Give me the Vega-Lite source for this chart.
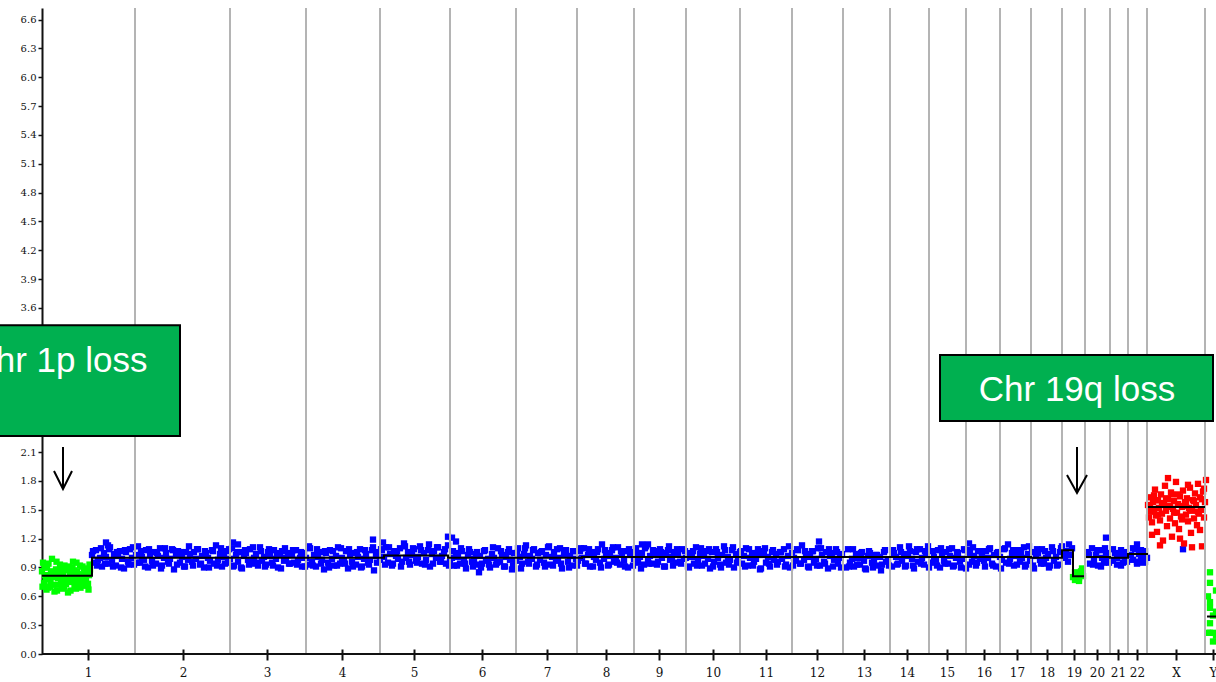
{
"$schema": "https://vega.github.io/schema/vega-lite/v6.json",
"width": 1174, "height": 646,
"autosize": {"type": "none"},
"padding": {"left": 42, "top": 8, "right": 0, "bottom": 28},
"background": "white",
"config": {
 "view": {"stroke": null},
 "axisX": {"title": null, "grid": false, "domain": false, "offset": -5, "tickSize": 11, "tickWidth": 2, "tickColor": "#111", "labelPadding": 7, "labelOverlap": false, "labelBound": false, "labelFlush": false, "labelFont": "DejaVu Serif", "labelFontSize": 12, "labelColor": "#111"},
 "axisY": {"title": null, "grid": false, "domain": true, "domainColor": "#111", "domainWidth": 2, "tickSize": 4, "tickWidth": 1.5, "tickColor": "#111", "labelPadding": 2, "labelOverlap": false, "labelBound": false, "labelFlush": false, "labelFont": "DejaVu Serif", "labelFontSize": 10, "labelColor": "#111"}
},
"datasets": {
"normal": [
{"x":50,"y":1.03},{"x":52,"y":0.95},{"x":54,"y":1.08},{"x":56,"y":0.98},{"x":58,"y":1.00},{"x":60,"y":0.91},{"x":62,"y":1.05},{"x":64,"y":1.01},{"x":66,"y":0.94},{"x":68,"y":1.11},{"x":70,"y":0.97},{"x":72,"y":1.04},{"x":74,"y":0.92},{"x":76,"y":1.02},{"x":78,"y":1.07},{"x":80,"y":0.99},{"x":82,"y":0.89},{"x":84,"y":1.06},{"x":86,"y":0.96},{"x":88,"y":1.09},{"x":90,"y":1.00},{"x":92,"y":0.93},{"x":64,"y":1.16},{"x":66,"y":1.13},
{"x":94,"y":1.03},{"x":96,"y":1.12},{"x":98,"y":0.95},{"x":100,"y":1.01},{"x":102,"y":0.98},{"x":104,"y":1.08},{"x":106,"y":0.90},{"x":108,"y":1.04},{"x":110,"y":0.97},{"x":112,"y":1.06},{"x":114,"y":0.94},{"x":116,"y":1.02},{"x":118,"y":1.10},{"x":120,"y":0.92},{"x":122,"y":1.00},{"x":124,"y":1.05},{"x":126,"y":0.96},{"x":128,"y":0.99},{"x":130,"y":1.09},{"x":132,"y":0.88},{"x":134,"y":1.03},{"x":136,"y":1.07},{"x":138,"y":0.95},{"x":140,"y":1.01},{"x":142,"y":0.91},{"x":144,"y":1.06},{"x":146,"y":0.98},{"x":148,"y":1.04},
{"x":150,"y":0.96},{"x":152,"y":1.06},{"x":154,"y":0.99},{"x":156,"y":1.09},{"x":158,"y":0.93},{"x":160,"y":1.02},{"x":162,"y":0.90},{"x":164,"y":1.05},{"x":166,"y":1.00},{"x":168,"y":0.97},{"x":170,"y":1.08},{"x":172,"y":0.94},{"x":174,"y":1.13},{"x":176,"y":0.98},{"x":178,"y":1.04},{"x":180,"y":0.91},{"x":182,"y":1.01},{"x":184,"y":1.07},{"x":186,"y":0.95},
{"x":188,"y":0.99},{"x":190,"y":1.10},{"x":192,"y":0.92},{"x":194,"y":1.03},{"x":196,"y":0.96},{"x":198,"y":1.06},{"x":200,"y":0.89},{"x":202,"y":1.02},{"x":204,"y":1.05},{"x":206,"y":0.98},{"x":208,"y":1.09},{"x":210,"y":0.94},{"x":212,"y":1.00},{"x":214,"y":1.04},{"x":216,"y":0.92},{"x":218,"y":1.11},{"x":220,"y":0.97},{"x":222,"y":1.01},{"x":224,"y":0.93},{"x":226,"y":1.06},{"x":228,"y":1.02},{"x":230,"y":0.95},{"x":232,"y":1.08},{"x":234,"y":0.99},{"x":236,"y":0.90},{"x":238,"y":1.04},{"x":240,"y":1.07},{"x":242,"y":0.97},{"x":244,"y":1.00},{"x":246,"y":1.05},{"x":248,"y":0.94},{"x":250,"y":1.03},{"x":252,"y":0.95},{"x":254,"y":1.08},{"x":256,"y":0.98},{"x":258,"y":1.00},{"x":260,"y":0.91},{"x":262,"y":1.05},{"x":191,"y":1.16},{"x":196,"y":1.14},
{"x":264,"y":1.00},{"x":266,"y":0.93},{"x":268,"y":1.10},{"x":270,"y":0.96},{"x":272,"y":1.03},{"x":274,"y":0.91},{"x":276,"y":1.01},{"x":278,"y":1.06},{"x":280,"y":0.98},{"x":282,"y":0.88},{"x":284,"y":1.05},{"x":286,"y":0.95},{"x":288,"y":1.08},{"x":290,"y":0.99},{"x":292,"y":0.92},{"x":294,"y":1.02},{"x":296,"y":1.11},{"x":298,"y":0.94},{"x":300,"y":1.00},{"x":302,"y":0.97},{"x":304,"y":1.07},{"x":306,"y":0.89},{"x":308,"y":1.03},{"x":310,"y":0.96},{"x":312,"y":1.05},{"x":314,"y":0.93},{"x":316,"y":1.01},{"x":318,"y":1.09},{"x":320,"y":0.91},{"x":322,"y":0.99},{"x":324,"y":1.04},{"x":326,"y":0.95},{"x":328,"y":0.98},{"x":330,"y":1.08},{"x":332,"y":0.87},{"x":334,"y":1.02},{"x":336,"y":1.06},{"x":331,"y":1.19},
{"x":338,"y":0.98},{"x":340,"y":1.08},{"x":342,"y":1.01},{"x":344,"y":1.11},{"x":346,"y":0.95},{"x":348,"y":1.04},{"x":350,"y":0.92},{"x":352,"y":1.07},{"x":354,"y":1.02},{"x":356,"y":0.99},{"x":358,"y":1.10},{"x":360,"y":0.96},{"x":362,"y":1.15},{"x":364,"y":1.00},{"x":366,"y":1.06},{"x":368,"y":0.93},{"x":370,"y":1.03},{"x":372,"y":1.09},{"x":374,"y":0.97},{"x":376,"y":1.01},{"x":378,"y":1.12},{"x":380,"y":0.94},{"x":382,"y":1.05},{"x":384,"y":0.98},{"x":386,"y":1.08},{"x":388,"y":0.91},{"x":390,"y":1.04},{"x":392,"y":1.07},{"x":394,"y":1.00},{"x":396,"y":1.11},{"x":398,"y":0.96},{"x":400,"y":1.02},{"x":402,"y":1.06},{"x":404,"y":0.94},{"x":406,"y":1.13},{"x":406,"y":1.22},{"x":341,"y":1.16},
{"x":408,"y":0.96},{"x":410,"y":1.00},{"x":412,"y":0.92},{"x":414,"y":1.05},{"x":416,"y":1.01},{"x":418,"y":0.94},{"x":420,"y":1.07},{"x":422,"y":0.98},{"x":424,"y":0.89},{"x":426,"y":1.03},{"x":428,"y":1.06},{"x":430,"y":0.96},{"x":432,"y":0.99},{"x":434,"y":1.04},{"x":436,"y":0.93},{"x":438,"y":1.02},{"x":440,"y":0.94},{"x":442,"y":1.07},{"x":444,"y":0.97},{"x":446,"y":0.99},{"x":448,"y":0.90},{"x":450,"y":1.04},{"x":452,"y":1.00},{"x":454,"y":0.93},{"x":456,"y":1.10},{"x":458,"y":0.96},{"x":460,"y":1.03},{"x":462,"y":0.91},{"x":464,"y":1.01},{"x":466,"y":1.06},{"x":468,"y":0.98},{"x":470,"y":0.88},{"x":472,"y":1.05},{"x":410,"y":1.21},{"x":414,"y":1.17},{"x":437,"y":0.85},
{"x":474,"y":0.97},{"x":476,"y":1.10},{"x":478,"y":1.01},{"x":480,"y":0.94},{"x":482,"y":1.04},{"x":484,"y":1.13},{"x":486,"y":0.96},{"x":488,"y":1.02},{"x":490,"y":0.99},{"x":492,"y":1.09},{"x":494,"y":0.91},{"x":496,"y":1.05},{"x":498,"y":0.98},{"x":500,"y":1.07},{"x":502,"y":0.95},{"x":504,"y":1.03},{"x":506,"y":1.11},{"x":508,"y":0.93},{"x":510,"y":1.01},{"x":512,"y":1.06},{"x":514,"y":0.97},{"x":516,"y":1.00},{"x":518,"y":1.10},{"x":520,"y":0.89},{"x":522,"y":1.04},{"x":524,"y":1.08},{"x":526,"y":0.96},{"x":528,"y":1.02},{"x":530,"y":0.92},{"x":532,"y":1.07},{"x":534,"y":0.99},
{"x":536,"y":0.97},{"x":538,"y":1.07},{"x":540,"y":1.00},{"x":542,"y":1.10},{"x":544,"y":0.94},{"x":546,"y":1.03},{"x":548,"y":0.91},{"x":550,"y":1.06},{"x":552,"y":1.01},{"x":554,"y":0.98},{"x":556,"y":1.09},{"x":558,"y":0.95},{"x":560,"y":1.14},{"x":562,"y":0.99},{"x":564,"y":1.05},{"x":566,"y":0.92},{"x":568,"y":1.02},{"x":570,"y":1.08},{"x":572,"y":0.96},{"x":574,"y":1.00},{"x":576,"y":1.11},{"x":578,"y":0.93},{"x":580,"y":1.04},{"x":582,"y":0.97},{"x":584,"y":1.07},{"x":586,"y":0.90},{"x":588,"y":1.03},{"x":590,"y":1.06},
{"x":592,"y":0.99},{"x":594,"y":1.10},{"x":596,"y":0.95},{"x":598,"y":1.01},{"x":600,"y":1.05},{"x":602,"y":0.93},{"x":604,"y":1.12},{"x":606,"y":0.98},{"x":608,"y":1.02},{"x":610,"y":0.94},{"x":612,"y":1.07},{"x":614,"y":1.03},{"x":616,"y":0.96},{"x":618,"y":1.09},{"x":620,"y":1.00},{"x":622,"y":0.91},{"x":624,"y":1.05},{"x":626,"y":1.08},{"x":628,"y":0.98},{"x":630,"y":1.01},{"x":632,"y":1.06},{"x":634,"y":0.95},{"x":636,"y":1.04},{"x":638,"y":0.96},{"x":640,"y":1.09},{"x":642,"y":0.99},{"x":600,"y":1.14},{"x":606,"y":1.14},
{"x":644,"y":1.00},{"x":646,"y":0.91},{"x":648,"y":1.05},{"x":650,"y":1.01},{"x":652,"y":0.94},{"x":654,"y":1.11},{"x":656,"y":0.97},{"x":658,"y":1.04},{"x":660,"y":0.92},{"x":662,"y":1.02},{"x":664,"y":1.07},{"x":666,"y":0.99},{"x":668,"y":0.89},{"x":670,"y":1.06},{"x":672,"y":0.96},{"x":674,"y":1.09},{"x":676,"y":1.00},{"x":678,"y":0.93},{"x":680,"y":1.03},{"x":682,"y":1.12},{"x":684,"y":0.95},{"x":686,"y":1.01},{"x":688,"y":0.98},{"x":690,"y":1.08},{"x":692,"y":0.90},{"x":694,"y":1.04},{"x":696,"y":0.97},
{"x":698,"y":1.06},{"x":700,"y":0.94},{"x":702,"y":1.02},{"x":704,"y":1.10},{"x":706,"y":0.92},{"x":708,"y":1.00},{"x":710,"y":1.05},{"x":712,"y":0.96},{"x":714,"y":0.99},{"x":716,"y":1.09},{"x":718,"y":0.88},{"x":720,"y":1.03},{"x":722,"y":1.07},{"x":724,"y":0.95},{"x":726,"y":1.01},{"x":728,"y":0.91},{"x":730,"y":1.06},{"x":732,"y":0.98},{"x":734,"y":1.04},{"x":736,"y":0.96},{"x":738,"y":1.06},{"x":740,"y":0.99},{"x":742,"y":1.09},{"x":744,"y":0.93},{"x":746,"y":1.02},{"x":748,"y":0.90},
{"x":750,"y":1.05},{"x":752,"y":1.00},{"x":754,"y":0.97},{"x":756,"y":1.08},{"x":758,"y":0.94},{"x":760,"y":1.13},{"x":762,"y":0.98},{"x":764,"y":1.04},{"x":766,"y":0.91},{"x":768,"y":1.01},{"x":770,"y":1.07},{"x":772,"y":0.95},{"x":774,"y":0.99},{"x":776,"y":1.10},{"x":778,"y":0.92},{"x":780,"y":1.03},{"x":782,"y":0.96},{"x":784,"y":1.06},{"x":786,"y":0.89},{"x":788,"y":1.02},{"x":790,"y":1.05},{"x":792,"y":0.98},{"x":794,"y":1.09},{"x":796,"y":0.94},{"x":798,"y":1.00},{"x":800,"y":1.04},{"x":777,"y":1.17},
{"x":804,"y":0.90},{"x":806,"y":1.09},{"x":808,"y":0.95},{"x":810,"y":0.99},{"x":812,"y":0.91},{"x":814,"y":1.04},{"x":816,"y":1.00},{"x":818,"y":0.93},{"x":820,"y":1.06},{"x":822,"y":0.97},{"x":824,"y":0.88},{"x":826,"y":1.02},{"x":828,"y":1.05},{"x":830,"y":0.95},{"x":832,"y":0.98},{"x":834,"y":1.03},{"x":836,"y":0.92},{"x":838,"y":1.01},{"x":840,"y":0.93},{"x":842,"y":1.06},{"x":844,"y":0.96},{"x":846,"y":0.98},
{"x":850,"y":0.91},{"x":852,"y":1.05},{"x":854,"y":1.01},{"x":856,"y":0.94},{"x":858,"y":1.11},{"x":860,"y":0.97},{"x":862,"y":1.04},{"x":864,"y":0.92},{"x":866,"y":1.02},{"x":868,"y":1.07},{"x":870,"y":0.99},{"x":872,"y":0.89},{"x":874,"y":1.06},{"x":876,"y":0.96},{"x":878,"y":1.09},{"x":880,"y":1.00},{"x":882,"y":0.93},{"x":884,"y":1.03},{"x":886,"y":1.12},
{"x":890,"y":0.95},{"x":892,"y":1.01},{"x":894,"y":0.98},{"x":896,"y":1.08},{"x":898,"y":0.90},{"x":900,"y":1.04},{"x":902,"y":0.97},{"x":904,"y":1.06},{"x":906,"y":0.94},{"x":908,"y":1.02},{"x":910,"y":1.10},{"x":912,"y":0.92},{"x":914,"y":1.00},{"x":916,"y":1.05},{"x":918,"y":0.96},{"x":920,"y":0.99},{"x":922,"y":1.09},
{"x":924,"y":0.89},{"x":926,"y":1.04},{"x":928,"y":1.08},{"x":930,"y":0.96},{"x":932,"y":1.02},{"x":934,"y":0.92},{"x":936,"y":1.07},{"x":938,"y":0.99},{"x":940,"y":1.05},{"x":942,"y":0.97},{"x":944,"y":1.07},{"x":946,"y":1.00},{"x":948,"y":1.10},{"x":950,"y":0.94},{"x":952,"y":1.03},{"x":954,"y":0.91},{"x":956,"y":1.06},{"x":927,"y":1.15},
{"x":958,"y":1.01},{"x":960,"y":0.98},{"x":962,"y":1.09},{"x":964,"y":0.95},{"x":966,"y":1.14},{"x":968,"y":0.99},{"x":970,"y":1.05},{"x":972,"y":0.92},{"x":974,"y":1.02},{"x":976,"y":1.08},{"x":978,"y":0.96},{"x":980,"y":1.00},{"x":982,"y":1.11},{"x":984,"y":0.93},{"x":986,"y":1.04},{"x":988,"y":0.97},
{"x":990,"y":1.06},{"x":992,"y":0.89},{"x":994,"y":1.02},{"x":996,"y":1.05},{"x":998,"y":0.98},{"x":1000,"y":1.09},{"x":1002,"y":0.94},{"x":1004,"y":1.00},{"x":1006,"y":1.04},{"x":1008,"y":0.92},{"x":1010,"y":1.11},{"x":1012,"y":0.97},{"x":1014,"y":1.01},{"x":1016,"y":0.93},{"x":1018,"y":1.06},
{"x":1020,"y":1.12},{"x":1022,"y":1.00},{"x":1024,"y":1.07},{"x":1026,"y":0.96},{"x":1028,"y":1.03},{"x":1030,"y":1.10},
{"x":1046,"y":1.06},{"x":1048,"y":0.94},{"x":1050,"y":1.10},{"x":1052,"y":0.97},{"x":1054,"y":1.03},{"x":1056,"y":0.92},{"x":1058,"y":1.08},{"x":1060,"y":1.00},{"x":1062,"y":0.95},{"x":1064,"y":1.05},{"x":1066,"y":0.98},{"x":1064,"y":1.21},
{"x":1071,"y":0.97},{"x":1073,"y":1.05},{"x":1075,"y":0.93},{"x":1077,"y":1.02},{"x":1079,"y":1.08},{"x":1081,"y":0.95},{"x":1083,"y":1.00},{"x":1085,"y":0.96},
{"x":1089,"y":1.03},{"x":1091,"y":0.98},{"x":1093,"y":1.09},{"x":1095,"y":0.96},{"x":1097,"y":1.04},{"x":1099,"y":1.01},{"x":1101,"y":0.95},{"x":1103,"y":1.07},{"x":1105,"y":1.00},{"x":1095,"y":1.14},
{"x":1141,"y":1.09},
{"x":51,"y":1.07},{"x":55,"y":0.92},{"x":59,"y":1.10},{"x":63,"y":0.94},{"x":67,"y":1.09},{"x":71,"y":0.91},{"x":75,"y":1.06},{"x":79,"y":0.90},{"x":83,"y":1.08},{"x":87,"y":0.93},{"x":91,"y":1.11},{"x":95,"y":0.95},{"x":99,"y":1.07},{"x":103,"y":0.91},{"x":107,"y":1.09},{"x":111,"y":0.92},{"x":115,"y":1.05},{"x":119,"y":0.89},{"x":123,"y":1.10},{"x":127,"y":0.94},{"x":131,"y":1.08},{"x":135,"y":0.93},{"x":139,"y":1.06},{"x":143,"y":0.91},{"x":147,"y":1.12},{"x":151,"y":0.92},{"x":155,"y":1.09},{"x":159,"y":0.94},{"x":163,"y":1.07},{"x":167,"y":0.90},{"x":171,"y":1.07},{"x":175,"y":0.92},{"x":179,"y":1.10},{"x":183,"y":0.94},{"x":187,"y":1.09},{"x":191,"y":0.91},{"x":195,"y":1.06},{"x":199,"y":0.90},{"x":203,"y":1.08},{"x":207,"y":0.93},{"x":211,"y":1.11},{"x":215,"y":0.95},{"x":219,"y":1.07},{"x":223,"y":0.91},{"x":227,"y":1.09},{"x":231,"y":0.92},{"x":235,"y":1.05},{"x":239,"y":0.89},{"x":243,"y":1.10},{"x":247,"y":0.94},{"x":251,"y":1.08},{"x":255,"y":0.93},{"x":259,"y":1.06},{"x":263,"y":0.91},
{"x":267,"y":1.12},{"x":271,"y":0.92},{"x":275,"y":1.09},{"x":279,"y":0.94},{"x":283,"y":1.07},{"x":287,"y":0.90},{"x":291,"y":1.07},{"x":295,"y":0.92},{"x":299,"y":1.10},{"x":303,"y":0.94},{"x":307,"y":1.09},{"x":311,"y":0.91},{"x":315,"y":1.06},{"x":319,"y":0.90},{"x":323,"y":1.08},{"x":327,"y":0.93},{"x":331,"y":1.11},{"x":335,"y":0.95},
{"x":339,"y":1.09},{"x":343,"y":0.93},{"x":347,"y":1.11},{"x":351,"y":0.94},{"x":355,"y":1.07},{"x":359,"y":0.91},{"x":363,"y":1.12},{"x":367,"y":0.96},{"x":371,"y":1.10},{"x":375,"y":0.95},{"x":379,"y":1.08},{"x":383,"y":0.93},{"x":387,"y":1.14},{"x":391,"y":0.94},{"x":395,"y":1.11},{"x":399,"y":0.96},{"x":403,"y":1.09},{"x":407,"y":0.92},
{"x":411,"y":1.07},{"x":415,"y":0.92},{"x":419,"y":1.10},{"x":423,"y":0.94},{"x":427,"y":1.09},{"x":431,"y":0.91},{"x":435,"y":1.06},{"x":439,"y":0.90},{"x":443,"y":1.08},{"x":447,"y":0.93},{"x":451,"y":1.11},{"x":455,"y":0.95},{"x":459,"y":1.07},{"x":463,"y":0.91},{"x":467,"y":1.09},{"x":471,"y":0.92},
{"x":475,"y":1.05},{"x":479,"y":0.89},{"x":483,"y":1.10},{"x":487,"y":0.94},{"x":491,"y":1.08},{"x":495,"y":0.93},{"x":499,"y":1.06},{"x":503,"y":0.91},{"x":507,"y":1.12},{"x":511,"y":0.92},{"x":515,"y":1.09},{"x":519,"y":0.94},{"x":523,"y":1.07},{"x":527,"y":0.90},{"x":531,"y":1.07},{"x":535,"y":0.92},
{"x":539,"y":1.10},{"x":543,"y":0.94},{"x":547,"y":1.09},{"x":551,"y":0.91},{"x":555,"y":1.06},{"x":559,"y":0.90},{"x":563,"y":1.08},{"x":567,"y":0.93},{"x":571,"y":1.11},{"x":575,"y":0.95},{"x":579,"y":1.07},{"x":583,"y":0.91},{"x":587,"y":1.09},{"x":591,"y":0.92},
{"x":595,"y":1.05},{"x":599,"y":0.89},{"x":603,"y":1.10},{"x":607,"y":0.94},{"x":611,"y":1.08},{"x":615,"y":0.93},{"x":619,"y":1.06},{"x":623,"y":0.91},{"x":627,"y":1.12},{"x":631,"y":0.92},{"x":635,"y":1.09},{"x":639,"y":0.94},{"x":643,"y":1.07},
{"x":647,"y":0.90},{"x":651,"y":1.07},{"x":655,"y":0.92},{"x":659,"y":1.10},{"x":663,"y":0.94},{"x":667,"y":1.09},{"x":671,"y":0.91},{"x":675,"y":1.06},{"x":679,"y":0.90},{"x":683,"y":1.08},{"x":687,"y":0.93},{"x":691,"y":1.11},{"x":695,"y":0.95},
{"x":699,"y":1.07},{"x":703,"y":0.91},{"x":707,"y":1.09},{"x":711,"y":0.92},{"x":715,"y":1.05},{"x":719,"y":0.89},{"x":723,"y":1.10},{"x":727,"y":0.94},{"x":731,"y":1.08},{"x":735,"y":0.93},{"x":739,"y":1.06},{"x":743,"y":0.91},{"x":747,"y":1.12},
{"x":751,"y":0.92},{"x":755,"y":1.09},{"x":759,"y":0.94},{"x":763,"y":1.07},{"x":767,"y":0.90},{"x":771,"y":1.07},{"x":775,"y":0.92},{"x":779,"y":1.10},{"x":783,"y":0.94},{"x":787,"y":1.09},{"x":791,"y":0.91},{"x":795,"y":1.06},{"x":799,"y":0.90},
{"x":807,"y":0.91},{"x":811,"y":1.09},{"x":815,"y":0.93},{"x":819,"y":1.05},{"x":823,"y":0.89},{"x":827,"y":1.07},{"x":831,"y":0.90},{"x":835,"y":1.03},{"x":839,"y":0.87},{"x":843,"y":1.08},{"x":847,"y":0.92},
{"x":851,"y":1.08},{"x":855,"y":0.93},{"x":859,"y":1.06},{"x":863,"y":0.91},{"x":867,"y":1.12},{"x":871,"y":0.92},{"x":875,"y":1.09},{"x":879,"y":0.94},{"x":883,"y":1.07},{"x":887,"y":0.90},
{"x":891,"y":1.07},{"x":895,"y":0.92},{"x":899,"y":1.10},{"x":903,"y":0.94},{"x":907,"y":1.09},{"x":911,"y":0.91},{"x":915,"y":1.06},{"x":919,"y":0.90},{"x":923,"y":1.08},
{"x":927,"y":0.93},{"x":931,"y":1.11},{"x":935,"y":0.95},{"x":939,"y":1.07},{"x":943,"y":0.91},{"x":947,"y":1.09},{"x":951,"y":0.92},{"x":955,"y":1.05},
{"x":959,"y":0.89},{"x":963,"y":1.10},{"x":967,"y":0.94},{"x":971,"y":1.08},{"x":975,"y":0.93},{"x":979,"y":1.06},{"x":983,"y":0.91},{"x":987,"y":1.12},
{"x":991,"y":0.92},{"x":995,"y":1.09},{"x":999,"y":0.94},{"x":1003,"y":1.07},{"x":1007,"y":0.90},{"x":1011,"y":1.07},{"x":1015,"y":0.92},{"x":1019,"y":1.10},
{"x":1023,"y":1.02},{"x":1027,"y":1.14},
{"x":1047,"y":1.03},{"x":1051,"y":0.93},{"x":1055,"y":1.08},{"x":1059,"y":0.91},{"x":1063,"y":1.10},{"x":1067,"y":0.95},
{"x":1071,"y":1.09},{"x":1075,"y":1.00},{"x":1079,"y":0.92},{"x":1083,"y":1.06},
{"x":1091,"y":1.10},{"x":1095,"y":0.94},{"x":1099,"y":1.08},{"x":1103,"y":0.96}
],
"loss": [
{"x":0,"y":0.86},{"x":1,"y":0.95},{"x":2,"y":0.74},{"x":3,"y":0.82},{"x":4,"y":0.78},{"x":5,"y":0.90},{"x":6,"y":0.69},{"x":7,"y":0.78},{"x":8,"y":0.70},{"x":9,"y":0.85},{"x":10,"y":0.99},{"x":11,"y":0.72},{"x":12,"y":0.85},{"x":13,"y":0.80},{"x":14,"y":0.88},{"x":15,"y":0.66},{"x":16,"y":0.79},{"x":17,"y":0.83},{"x":18,"y":0.93},{"x":19,"y":0.76},{"x":20,"y":0.89},{"x":21,"y":0.81},{"x":22,"y":0.70},{"x":23,"y":0.87},{"x":24,"y":0.73},{"x":25,"y":0.79},{"x":26,"y":0.64},{"x":27,"y":0.91},{"x":28,"y":0.81},{"x":29,"y":0.84},{"x":30,"y":0.75},{"x":31,"y":0.96},{"x":32,"y":0.87},{"x":33,"y":0.80},{"x":34,"y":0.68},{"x":35,"y":0.86},{"x":36,"y":0.74},{"x":37,"y":0.77},{"x":38,"y":0.92},{"x":39,"y":0.83},{"x":40,"y":0.80},{"x":41,"y":0.71},{"x":42,"y":0.89},{"x":43,"y":0.79},{"x":44,"y":0.76},{"x":45,"y":0.85},{"x":46,"y":0.73},{"x":47,"y":0.82},{"x":48,"y":0.88},
{"x":0.5,"y":0.70},{"x":2.5,"y":0.90},{"x":4.5,"y":0.67},{"x":6.5,"y":0.94},{"x":8.5,"y":0.75},{"x":10.5,"y":0.86},{"x":12.5,"y":0.65},{"x":14.5,"y":0.96},{"x":16.5,"y":0.72},{"x":18.5,"y":0.84},{"x":20.5,"y":0.68},{"x":22.5,"y":0.92},{"x":24.5,"y":0.77},{"x":26.5,"y":0.88},{"x":28.5,"y":0.66},{"x":30.5,"y":0.90},{"x":32.5,"y":0.71},{"x":34.5,"y":0.95},{"x":36.5,"y":0.82},{"x":38.5,"y":0.69},{"x":40.5,"y":0.91},{"x":42.5,"y":0.74},{"x":44.5,"y":0.87},{"x":46.5,"y":0.67},{"x":47.5,"y":0.93},
{"x":1031,"y":0.80},{"x":1033,"y":0.77},{"x":1035,"y":0.84},{"x":1037,"y":0.79},{"x":1039,"y":0.86},{"x":1041,"y":0.81},{"x":1033,"y":0.85},{"x":1037,"y":0.76},{"x":1040,"y":0.89},{"x":1035,"y":0.78},
{"x":1168,"y":0.85},{"x":1168,"y":0.74},{"x":1168,"y":0.54},{"x":1168,"y":0.48},{"x":1168,"y":0.32},{"x":1168,"y":0.22},{"x":1171,"y":0.40},{"x":1171,"y":0.22},{"x":1171,"y":0.13},{"x":1166,"y":0.60},{"x":1166,"y":0.22},{"x":1174,"y":0.66},{"x":1174,"y":0.44},{"x":1174,"y":0.19}
],
"gain": [
{"x":1106,"y":1.55},{"x":1107,"y":1.42},{"x":1108,"y":1.63},{"x":1109,"y":1.48},{"x":1110,"y":1.37},{"x":1111,"y":1.58},{"x":1112,"y":1.50},{"x":1113,"y":1.71},{"x":1114,"y":1.44},{"x":1115,"y":1.27},{"x":1116,"y":1.60},{"x":1117,"y":1.52},{"x":1118,"y":1.39},{"x":1119,"y":1.66},{"x":1120,"y":1.46},{"x":1121,"y":1.18},{"x":1122,"y":1.57},{"x":1123,"y":1.75},{"x":1124,"y":1.49},{"x":1125,"y":1.33},{"x":1126,"y":1.61},{"x":1127,"y":1.54},{"x":1128,"y":1.41},{"x":1129,"y":1.68},{"x":1130,"y":1.22},{"x":1131,"y":1.51},{"x":1132,"y":1.59},{"x":1133,"y":1.36},{"x":1134,"y":1.79},{"x":1135,"y":1.47},{"x":1136,"y":1.56},{"x":1137,"y":1.30},{"x":1138,"y":1.64},{"x":1139,"y":1.43},{"x":1140,"y":1.53},{"x":1141,"y":1.70},{"x":1142,"y":1.15},{"x":1143,"y":1.58},{"x":1144,"y":1.45},{"x":1145,"y":1.62},{"x":1146,"y":1.38},{"x":1147,"y":1.52},{"x":1148,"y":1.73},{"x":1149,"y":1.26},{"x":1150,"y":1.49},{"x":1151,"y":1.60},{"x":1152,"y":1.41},{"x":1153,"y":1.67},{"x":1154,"y":1.55},{"x":1155,"y":1.34},{"x":1156,"y":1.77},{"x":1157,"y":1.46},{"x":1158,"y":1.63},{"x":1159,"y":1.50},{"x":1160,"y":1.12},{"x":1161,"y":1.69},{"x":1162,"y":1.42},{"x":1163,"y":1.58},{"x":1164,"y":1.81},
{"x":1108,"y":1.52},{"x":1112,"y":1.65},{"x":1116,"y":1.45},{"x":1120,"y":1.56},{"x":1124,"y":1.62},{"x":1128,"y":1.53},{"x":1132,"y":1.47},{"x":1136,"y":1.66},{"x":1140,"y":1.40},{"x":1144,"y":1.57},{"x":1148,"y":1.50},{"x":1152,"y":1.59},{"x":1156,"y":1.48},{"x":1160,"y":1.61},{"x":1110,"y":1.24},{"x":1126,"y":1.83},{"x":1138,"y":1.20},{"x":1150,"y":1.11},{"x":1158,"y":1.29},{"x":1118,"y":1.13},{"x":1146,"y":1.76},{"x":1162,"y":1.72},{"x":1114,"y":1.60},{"x":1130,"y":1.66},{"x":1142,"y":1.54}
],
"bounds": [{"x":93},{"x":188},{"x":264},{"x":338},{"x":408},{"x":474},{"x":535},{"x":592},{"x":644},{"x":698},{"x":750},{"x":801},{"x":848},{"x":887},{"x":924},{"x":958},{"x":989},{"x":1020},{"x":1043},{"x":1068},{"x":1086},{"x":1105},{"x":1163}],
"seg": [
{"g":"a","o":1,"x":0,"y":0.815},{"g":"a","o":2,"x":50,"y":0.815},{"g":"a","o":3,"x":50,"y":1.0},{"g":"a","o":4,"x":342,"y":1.0},{"g":"a","o":5,"x":342,"y":1.025},{"g":"a","o":6,"x":406,"y":1.025},{"g":"a","o":7,"x":406,"y":1.0},{"g":"a","o":8,"x":540,"y":1.0},{"g":"a","o":9,"x":540,"y":1.01},{"g":"a","o":10,"x":989,"y":1.01},{"g":"a","o":11,"x":989,"y":1.0},{"g":"a","o":12,"x":1020,"y":1.0},{"g":"a","o":13,"x":1020,"y":1.08},{"g":"a","o":14,"x":1031,"y":1.08},{"g":"a","o":15,"x":1031,"y":0.81},{"g":"a","o":16,"x":1042,"y":0.81},
{"g":"b","o":1,"x":1044,"y":1.01},{"g":"b","o":2,"x":1068,"y":1.01},{"g":"b","o":3,"x":1068,"y":1.0},{"g":"b","o":4,"x":1086,"y":1.0},{"g":"b","o":5,"x":1086,"y":1.04},{"g":"b","o":6,"x":1106,"y":1.04},
{"g":"c","o":1,"x":1106,"y":1.53},{"g":"c","o":2,"x":1163,"y":1.53},
{"g":"d","o":1,"x":1165,"y":0.39},{"g":"d","o":2,"x":1176,"y":0.39}
],
"notes": [
{"x1":-60,"x2":138,"y1":2.268,"y2":3.42,"label":"Chr 1p loss","tx":17,"ty":2.934},
{"x1":898,"x2":1171,"y1":2.424,"y2":3.11,"label":"Chr 19q loss","tx":1035,"ty":2.627}
],
"arrows": [
{"g":"a1","o":1,"x":21,"y":2.153},{"g":"a1","o":2,"x":21,"y":1.72},
{"g":"a2","o":1,"x":12,"y":1.904},{"g":"a2","o":2,"x":21,"y":1.716},{"g":"a2","o":3,"x":30,"y":1.904},
{"g":"b1","o":1,"x":1035,"y":2.153},{"g":"b1","o":2,"x":1035,"y":1.68},
{"g":"b2","o":1,"x":1025,"y":1.862},{"g":"b2","o":2,"x":1035,"y":1.675},{"g":"b2","o":3,"x":1045,"y":1.862}
]
},
"layer": [
{"data": {"name": "normal"}, "mark": {"type": "point", "shape": "square", "filled": true, "size": 40, "opacity": 1, "color": "#0000ff"},
 "encoding": {
  "x": {"field": "x", "type": "quantitative", "scale": {"domain": [0, 1174], "nice": false, "zero": false},
   "axis": {"tickCount": 40, "values": [46,141,225,300,372,440,505,564,617,671,724,775,822,865,905,942,975,1005,1032,1055,1076,1095,1134,1171],
    "labelExpr": "['1','2','3','4','5','6','7','8','9','10','11','12','13','14','15','16','17','18','19','20','21','22','X','Y'][indexof([46,141,225,300,372,440,505,564,617,671,724,775,822,865,905,942,975,1005,1032,1055,1076,1095,1134,1171], datum.value)]"}},
  "y": {"field": "y", "type": "quantitative", "scale": {"domain": [0, 6.72], "nice": false, "zero": true},
   "axis": {"format": ".1f", "tickCount": 40, "values": [0,0.3,0.6,0.9,1.2,1.5,1.8,2.1,2.4,2.7,3.0,3.3,3.6,3.9,4.2,4.5,4.8,5.1,5.4,5.7,6.0,6.3,6.6]}}
 }},
{"data": {"name": "loss"}, "mark": {"type": "point", "shape": "square", "filled": true, "size": 40, "opacity": 1, "color": "#00ff00"},
 "encoding": {"x": {"field": "x", "type": "quantitative"}, "y": {"field": "y", "type": "quantitative"}}},
{"data": {"name": "gain"}, "mark": {"type": "point", "shape": "square", "filled": true, "size": 40, "opacity": 1, "color": "#ff0000"},
 "encoding": {"x": {"field": "x", "type": "quantitative"}, "y": {"field": "y", "type": "quantitative"}}},
{"data": {"name": "bounds"}, "mark": {"type": "rule", "color": "#b4b4b4", "strokeWidth": 2},
 "encoding": {"x": {"field": "x", "type": "quantitative"}}},
{"data": {"name": "seg"}, "mark": {"type": "line", "color": "#000000", "strokeWidth": 2},
 "encoding": {"x": {"field": "x", "type": "quantitative"}, "y": {"field": "y", "type": "quantitative"}, "detail": {"field": "g"}, "order": {"field": "o"}}},
{"data": {"values": [{}]}, "mark": {"type": "rule", "color": "#111", "strokeWidth": 2},
 "encoding": {"y": {"datum": 0}}},
{"data": {"name": "notes"}, "mark": {"type": "rect", "fill": "#00b050", "stroke": "#000000", "strokeWidth": 2},
 "encoding": {"x": {"field": "x1", "type": "quantitative"}, "x2": {"field": "x2"}, "y": {"field": "y1", "type": "quantitative"}, "y2": {"field": "y2"}}},
{"data": {"name": "notes"}, "mark": {"type": "text", "color": "#ffffff", "font": "Liberation Sans", "fontSize": 35, "align": "center", "baseline": "alphabetic"},
 "encoding": {"x": {"field": "tx", "type": "quantitative"}, "y": {"field": "ty", "type": "quantitative"}, "text": {"field": "label"}}},
{"data": {"name": "arrows"}, "mark": {"type": "line", "color": "#000000", "strokeWidth": 2},
 "encoding": {"x": {"field": "x", "type": "quantitative"}, "y": {"field": "y", "type": "quantitative"}, "detail": {"field": "g"}, "order": {"field": "o"}}}
]
}
